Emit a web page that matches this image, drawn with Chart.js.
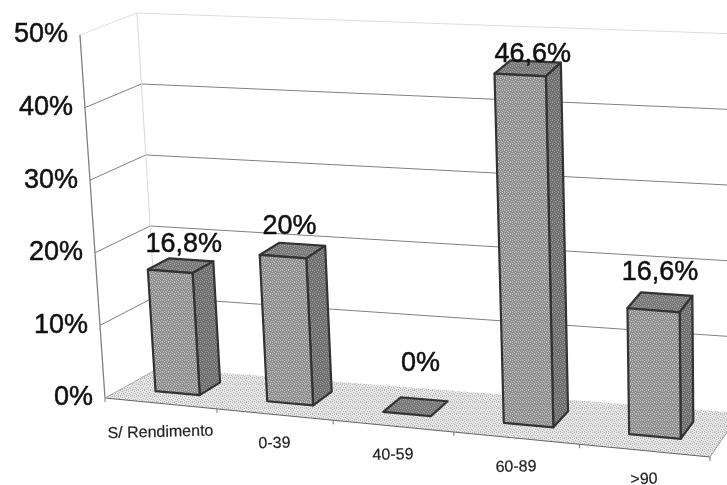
<!DOCTYPE html>
<html>
<head>
<meta charset="utf-8">
<title>Rendimento</title>
<script src="https://cdn.jsdelivr.net/npm/chart.js@4"></script>
<style>
  html, body { margin: 0; background: #fff; }
  canvas { display: block; }
</style>
</head>
<body>
<canvas id="chart" width="727" height="485"></canvas>
<script>
const categories = ["S/ Rendimento", "0-39", "40-59", "60-89", ">90"];
const shares = [16.8, 20, 0, 46.6, 16.6];
const axisMax = 50;
const axisStep = 10;

// floor corners of the 3D box, in canvas pixels
const floorFrontLeft = [105, 398];
const floorFrontRight = [710, 457];
const floorBackLeft = [159, 368];
const floorBackRight = [740, 413];

const barDepthFront = 0.33;
const barDepthBack = 0.73;
// how far each value label sits from the centre of its bar's top
const labelNudge = [
  [3, -21],
  [-3, -24],
  [5, -43],
  [5, -14],
  [0, -30],
];

function lerp(a, b, f) {
  return a + (b - a) * f;
}

// t: 0..1 across the categories, depth: 0 front..1 back, lift: pixels above the floor
function project(t, depth, lift) {
  const u = t / (1 + 0.101 * (1 - t));
  const frontX = lerp(floorFrontLeft[0], floorFrontRight[0], u);
  const frontY = lerp(floorFrontLeft[1], floorFrontRight[1], u);
  const backX = lerp(floorBackLeft[0], floorBackRight[0], u);
  const backY = lerp(floorBackLeft[1], floorBackRight[1], u);
  const stretch = lerp(lerp(1, 1.06, u), lerp(0.978, 1.044, u), depth);
  const lean = lerp(0.069, 0.004, u) * (1 - 0.1 * depth);
  const h = lift * stretch;
  return [lerp(frontX, backX, depth) - lean * h, lerp(frontY, backY, depth) - h];
}

// printed halftone fills: a small repeating tile of darker and lighter specks
function stipple(ctx, base, speck, rows) {
  const tile = document.createElement("canvas");
  tile.width = rows[0].length;
  tile.height = rows.length;
  const t = tile.getContext("2d");
  t.fillStyle = base;
  t.fillRect(0, 0, tile.width, tile.height);
  t.fillStyle = speck;
  rows.forEach((row, y) => {
    [...row].forEach((c, x) => {
      if (c === "#") t.fillRect(x, y, 1, 1);
    });
  });
  return ctx.createPattern(tile, "repeat");
}

const speckRows = ["#...#.", "..#...", ".....#", ".#.#..", "....#.", "#.#..."];

function polygon(ctx, points, fill, stroke, lineWidth) {
  ctx.beginPath();
  points.forEach((p, i) => (i ? ctx.lineTo(p[0], p[1]) : ctx.moveTo(p[0], p[1])));
  ctx.closePath();
  if (fill) {
    ctx.fillStyle = fill;
    ctx.fill();
  }
  if (stroke) {
    ctx.strokeStyle = stroke;
    ctx.lineWidth = lineWidth;
    ctx.lineJoin = "round";
    ctx.stroke();
  }
}

function line(ctx, a, b, color, width) {
  ctx.beginPath();
  ctx.moveTo(a[0], a[1]);
  ctx.lineTo(b[0], b[1]);
  ctx.strokeStyle = color;
  ctx.lineWidth = width;
  ctx.stroke();
}

const box3d = {
  id: "box3d",
  beforeDatasetsDraw(chart) {
    const { ctx, scales } = chart;
    const yAxis = scales.y;
    const lift = (v) => yAxis.bottom - yAxis.getPixelForValue(v);

    ctx.save();
    const floorFill = stipple(ctx, "#e6e6e6", "#b4b4b4", speckRows);
    polygon(ctx, [project(0, 0, 0), project(1, 0, 0), project(1, 1, 0), project(0, 1, 0)], floorFill);

    yAxis.ticks.forEach((tick) => {
      const h = lift(tick.value);
      const color = tick.value === axisMax ? "#dddddd" : "#808080";
      if (tick.value > 0) {
        line(ctx, project(0, 0, h), project(0, 1, h), color, 1);
        line(ctx, project(0, 1, h), project(1, 1, h), color, 1);
      }
    });
    line(ctx, project(0, 1, 0), project(0, 1, lift(axisMax)), "#d8d8d8", 1);
    line(ctx, project(0, 0, 0), project(0, 0, lift(axisMax)), "#808080", 1.3);

    line(ctx, project(0, 0, 0), project(1, 0, 0), "#666666", 1.2);
    line(ctx, project(1, 0, 0), project(1, 1, 0), "#999999", 1);
    line(ctx, project(0, 0, 0), project(0, 1, 0), "#aaaaaa", 1);
    for (let i = 0; i <= categories.length; i++) {
      const p = project(i / categories.length, 0, 0);
      line(ctx, p, [p[0], p[1] + 4], "#777777", 1);
    }
    ctx.restore();
  },
  afterDatasetsDraw(chart) {
    const { ctx, chartArea, scales } = chart;
    const yAxis = scales.y;
    const xAxis = scales.x;
    const across = (px) => (px - chartArea.left) / chartArea.width;
    const lift = (v) => yAxis.bottom - yAxis.getPixelForValue(v);

    ctx.save();
    const frontFill = stipple(ctx, "#8f8f8f", "#c4c4c4", speckRows);
    const sideFill = stipple(ctx, "#6e6e6e", "#999999", speckRows);
    const topFill = stipple(ctx, "#777777", "#a0a0a0", speckRows);
    const bars = chart.getDatasetMeta(0).data;
    bars.forEach((bar) => {
      const t0 = across(bar.x - bar.width / 2);
      const t1 = across(bar.x + bar.width / 2);
      const h = yAxis.bottom - bar.y;
      const d0 = barDepthFront;
      const d1 = barDepthBack;
      const dark = "#333333";
      polygon(ctx, [project(t0, d0, h), project(t1, d0, h), project(t1, d1, h), project(t0, d1, h)], topFill, dark, 2.2);
      if (h > 0) {
        polygon(ctx, [project(t1, d0, 0), project(t1, d1, 0), project(t1, d1, h), project(t1, d0, h)], sideFill, dark, 2.2);
        polygon(ctx, [project(t0, d0, 0), project(t1, d0, 0), project(t1, d0, h), project(t0, d0, h)], frontFill, dark, 2.2);
      }
    });

    ctx.fillStyle = "#111";
    ctx.strokeStyle = "#111";
    ctx.lineWidth = 0.5;
    ctx.textBaseline = "middle";

    // value axis labels follow the slanted front edge
    ctx.font = "27px 'Liberation Sans'";
    ctx.textAlign = "right";
    yAxis.ticks.forEach((tick) => {
      const p = project(0, 0, lift(tick.value));
      ctx.fillText(`${tick.value}%`, p[0] - 12, p[1]);
      ctx.strokeText(`${tick.value}%`, p[0] - 12, p[1]);
    });

    // value labels above the bars
    ctx.textAlign = "center";
    bars.forEach((bar, i) => {
      const text = `${String(shares[i]).replace(".", ",")}%`;
      const top = project(across(bar.x), (barDepthFront + barDepthBack) / 2, yAxis.bottom - bar.y);
      ctx.fillText(text, top[0] + labelNudge[i][0], top[1] + labelNudge[i][1]);
      ctx.strokeText(text, top[0] + labelNudge[i][0], top[1] + labelNudge[i][1]);
    });

    // category labels run along the front floor edge
    ctx.font = "16px 'Liberation Sans'";
    ctx.fillStyle = "#222";
    ctx.strokeStyle = "#222";
    ctx.lineWidth = 0.2;
    categories.forEach((name, i) => {
      const p = project(across(xAxis.getPixelForValue(i)), 0, 0);
      ctx.save();
      ctx.translate(p[0], p[1] + 29);
      ctx.rotate(-0.025);
      ctx.fillText(name, 0, 0);
      ctx.strokeText(name, 0, 0);
      ctx.restore();
    });
    ctx.restore();
  },
};

new Chart(document.getElementById("chart"), {
  type: "bar",
  data: {
    labels: categories,
    datasets: [
      {
        data: shares,
        backgroundColor: "rgba(0,0,0,0)",
        barPercentage: 0.4,
        categoryPercentage: 1,
      },
    ],
  },
  options: {
    responsive: false,
    animation: false,
    layout: { padding: { left: 105, right: 17, top: 35, bottom: 87 } },
    plugins: { legend: { display: false }, tooltip: { enabled: false } },
    scales: {
      x: { display: false },
      y: { display: false, min: 0, max: axisMax, ticks: { stepSize: axisStep } },
    },
  },
  plugins: [box3d],
});
</script>
</body>
</html>
